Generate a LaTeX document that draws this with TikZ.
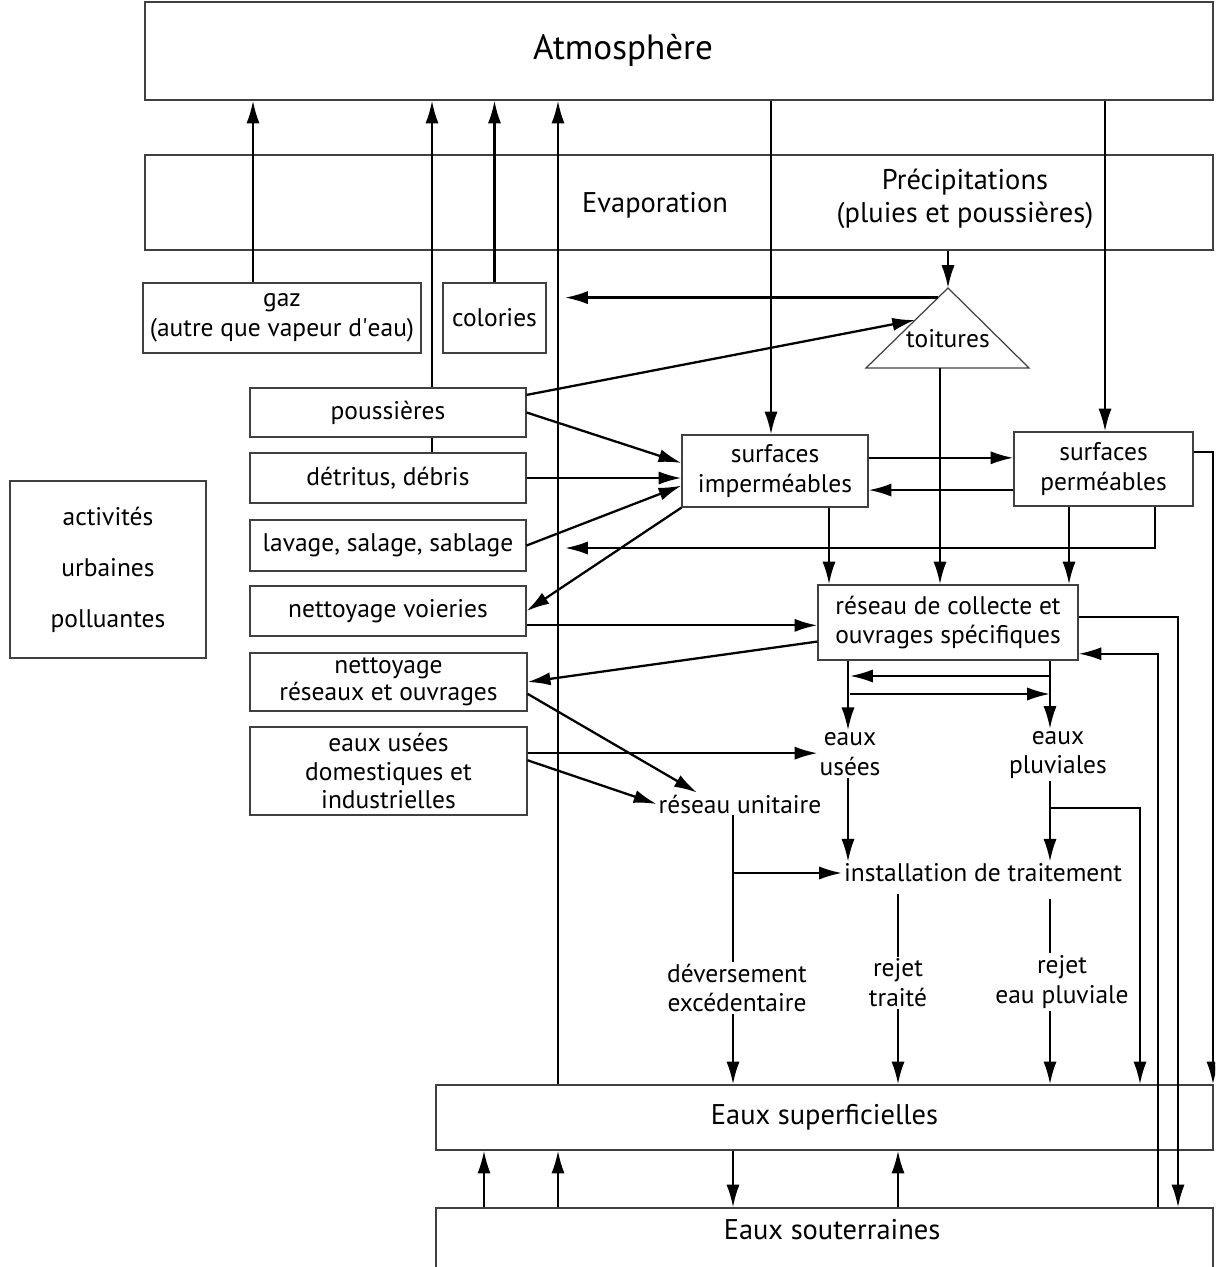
\documentclass[tikz,border=0pt]{standalone}
\usepackage{fontspec}
\setmainfont{PT Sans}
\usetikzlibrary{arrows.meta,calc}

\begin{document}
\begin{tikzpicture}[%
        x = 0.02cm, y = -0.02cm,
        box/.style = {draw = black!75, line width = 0.7pt, inner sep = 0pt},
        txt/.style = {font = \fontsize{14.5}{17}\selectfont, align = center, inner sep = 1pt},
        big/.style = {font = \fontsize{16.2}{18.5}\selectfont},
        flow/.style = {line width = 1.3pt, -{Latex[length = 13pt, width = 7.5pt]}},
        link/.style = {line width = 1.3pt}
    ]

        \clip (0,0) rectangle (1215,1267);

        % Columns used by the vertical connectors.
        \coordinate (xgaz) at (253,0);
        \coordinate (xdust) at (432,0);
        \coordinate (xsub) at (484,0);
        \coordinate (xevap) at (558,0);
        \coordinate (tocol) at (565,0);
        \coordinate (xunit) at (733,0);
        \coordinate (ximp) at (771,0);
        \coordinate (xim2) at (829,0);
        \coordinate (xeu) at (848,0);
        \coordinate (xtr) at (898,0);
        \coordinate (xroof) at (940,0);
        \coordinate (xep) at (1050,0);
        \coordinate (xpe1) at (1069,0);
        \coordinate (xper) at (1105,0);
        \coordinate (xrep) at (1140,0);
        \coordinate (xpe2) at (1155,0);
        \coordinate (xinf) at (1158,0);
        \coordinate (xexf) at (1178,0);
        \coordinate (xrun) at (1213,0);

        % Coordinates for the roof triangle.
        \coordinate (tA) at (948,288);
        \coordinate (tB) at (866,368);
        \coordinate (tC) at (1029,368);

        % Free ends and crossings.
        \coordinate (tolav) at (565,548);
        \coordinate (ret1) at (1050,676);
        \coordinate (ret2) at (850,676);
        \coordinate (fwd1) at (850,694);
        \coordinate (fwd2) at (1050,694);
        \coordinate (epbr) at (1050,808);

        % Atmosphere and the exchange band.
        \node[box, minimum width = 21.36cm, minimum height = 1.96cm] (atmo) at (679,51) {};
        \node[txt, font = \fontsize{20}{24}\selectfont] (atmotxt) at (623,50) {Atmosphère};
        \node[box, minimum width = 21.36cm, minimum height = 1.9cm] (band) at (679,202.5) {};
        \node[txt, big] (evap) at (655,205) {Evaporation};
        \node[txt, big] (precip) at (965,199) {Précipitations\\(pluies et poussières)};

        \node[box, txt, minimum width = 5.56cm, minimum height = 1.4cm] (gaz) at (282,318) {gaz\\(autre que vapeur d\textquotesingle eau)};
        \node[box, txt, minimum width = 2.06cm, minimum height = 1.4cm] (colories) at (494.5,318) {colories};

        \draw[box] (tA) -- (tB) -- (tC) -- cycle;
        \node[txt] (toit) at (948,339) {toitures};

        % Urban activities.
        \node[box, txt, minimum width = 3.92cm, minimum height = 3.54cm,
              font = \fontsize{14.5}{29}\selectfont] (activ) at (108,569.5) {activités\\urbaines\\polluantes};
        \node[box, txt, minimum width = 5.52cm, minimum height = 0.98cm] (dust) at (388,412.5) {poussières};
        \node[box, txt, minimum width = 5.52cm, minimum height = 1.0cm] (debris) at (388,478) {détritus, débris};
        \node[box, txt, minimum width = 5.52cm, minimum height = 1.02cm] (wash) at (388,545.5) {lavage, salage, sablage};
        \node[box, txt, minimum width = 5.52cm, minimum height = 1.0cm] (street) at (388,611) {nettoyage voieries};
        \node[box, txt, minimum width = 5.54cm, minimum height = 1.16cm,
              font = \fontsize{14.5}{15.5}\selectfont] (netres) at (388.5,682) {nettoyage\\réseaux et ouvrages};
        \node[box, txt, minimum width = 5.54cm, minimum height = 1.76cm,
              font = \fontsize{14.5}{16}\selectfont] (dom) at (388.5,771) {eaux usées\\domestiques et\\industrielles};

        % Surfaces and network.
        \node[box, txt, minimum width = 3.72cm, minimum height = 1.44cm] (imperm) at (775,471) {surfaces\\imperméables};
        \node[box, txt, minimum width = 3.58cm, minimum height = 1.48cm] (perm) at (1103.5,469) {surfaces\\perméables};
        \node[box, txt, minimum width = 5.2cm, minimum height = 1.5cm] (reseau) at (948,622.5) {réseau de collecte et\\ouvrages spécifiques};
        \node[txt] (eu) at (850,754) {eaux\\usées};
        \node[txt] (ep) at (1058,755) {eaux\\pluviales};
        \node[txt] (unit) at (740,804) {réseau unitaire};
        \node[txt] (install) at (983,873) {installation de traitement};
        \node[txt] (dever) at (737,988) {déversement\\excédentaire};
        \node[txt] (rt) at (898,983) {rejet\\traité};
        \node[txt] (rp) at (1062,982) {rejet\\eau pluviale};

        % Receiving waters.
        \node[box, txt, big, minimum width = 15.54cm, minimum height = 1.3cm] (sup) at (824.5,1117.5) {Eaux superficielles};
        \node[box, minimum width = 15.54cm, minimum height = 2cm] (sout) at (824.5,1258) {};
        \node[txt, big] (souttxt) at (832,1230) {Eaux souterraines};

        % Exchanges with the atmosphere.
        \draw[flow] (xgaz |- gaz.north) -- (xgaz |- atmo.south);
        \draw[flow] (xdust |- dust.north) -- (xdust |- atmo.south);
        \draw[link] (xdust |- dust.south) -- (xdust |- debris.north);
        \draw[flow] (colories.north) -- (colories.north |- atmo.south);
        \draw[flow] (xevap |- sup.north) -- (xevap |- atmo.south);
        \draw[flow] (ximp |- atmo.south) -- (ximp |- imperm.north);
        \draw[flow] (xper |- atmo.south) -- (xper |- perm.north);
        \draw[flow] (tA |- band.south) -- (tA);
        \draw[flow] ($(tA)!0.12!(tB)$) coordinate (roofl) -- (roofl -| tocol);

        % Inputs onto the surfaces.
        \draw[flow] ($(dust.north east)!0.15!(dust.south east)$) -- ($(tA)!0.4!(tB)$);
        \draw[flow] (dust.east) -- ($(imperm.north west)!0.39!(imperm.south west)$);
        \draw[flow] (debris.east) -- (imperm.west |- debris.east);
        \draw[flow] (wash.east) -- ($(imperm.north west)!0.7!(imperm.south west)$);
        \draw[flow] (imperm.south west) -- (street.east);
        \draw[flow] ($(street.north east)!0.78!(street.south east)$) coordinate (st1) -- (reseau.west |- st1);
        \draw[flow] ($(reseau.north west)!0.75!(reseau.south west)$) -- (netres.east);
        \draw[flow] ($(netres.north east)!0.7!(netres.south east)$) -- ([xshift = -0.86cm]unit.north);
        \draw[flow] ($(dom.north east)!0.3!(dom.south east)$) coordinate (dm1) -- (eu.west |- dm1);
        \draw[flow] ($(dom.north east)!0.38!(dom.south east)$) -- (unit.west);

        % Between the surfaces.
        \draw[flow] ($(imperm.north east)!0.32!(imperm.south east)$) coordinate (im1) -- (perm.west |- im1);
        \draw[flow] ($(perm.north west)!0.78!(perm.south west)$) coordinate (pm1) -- (imperm.east |- pm1);
        \draw[flow] ($(perm.north east)!0.27!(perm.south east)$) -| (xrun |- sup.north);
        \draw[flow] (xpe2 |- perm.south) |- (tolav);

        % Into the collecting network.
        \draw[flow] (xim2 |- imperm.south) -- (xim2 |- reseau.north);
        \draw[flow] (xroof |- tB) -- (xroof |- reseau.north);
        \draw[flow] (xpe1 |- perm.south) -- (xpe1 |- reseau.north);
        \draw[flow] ($(reseau.north east)!0.43!(reseau.south east)$) -| (xexf |- sout.north);
        \draw[flow] (xinf |- sout.north) |- ($(reseau.north east)!0.91!(reseau.south east)$);

        % Out of the network.
        \draw[flow] (xeu |- reseau.south) -- (xeu |- eu.north);
        \draw[flow] (xep |- reseau.south) -- (xep |- ep.north);
        \draw[flow] (ret1) -- (ret2);
        \draw[flow] (fwd1) -- (fwd2);
        \draw[flow] (xeu |- eu.south) -- (xeu |- install.north);
        \draw[flow] (xep |- ep.south) -- (xep |- install.north);
        \draw[flow] (epbr) -| (xrep |- sup.north);

        % Treatment and discharges.
        \draw[link] (xunit |- unit.south) -- (xunit |- dever.north);
        \draw[flow] (xunit |- dever.south) -- (xunit |- sup.north);
        \draw[flow] (xunit |- install.west) -- (install.west);
        \draw[link] ([yshift = -0.2cm]xtr |- install.south) -- (xtr |- rt.north);
        \draw[flow] (xtr |- rt.south) -- (xtr |- sup.north);
        \draw[link] ([yshift = -0.3cm]xep |- install.south) -- (xep |- rp.north);
        \draw[flow] (xep |- rp.south) -- (xep |- sup.north);

        % Surface and ground waters.
        \draw[flow] (xsub |- sout.north) -- (xsub |- sup.south);
        \draw[flow] (xevap |- sout.north) -- (xevap |- sup.south);
        \draw[flow] (xunit |- sup.south) -- (xunit |- sout.north);
        \draw[flow] (xtr |- sout.north) -- (xtr |- sup.south);
    \end{tikzpicture}
\end{document}
